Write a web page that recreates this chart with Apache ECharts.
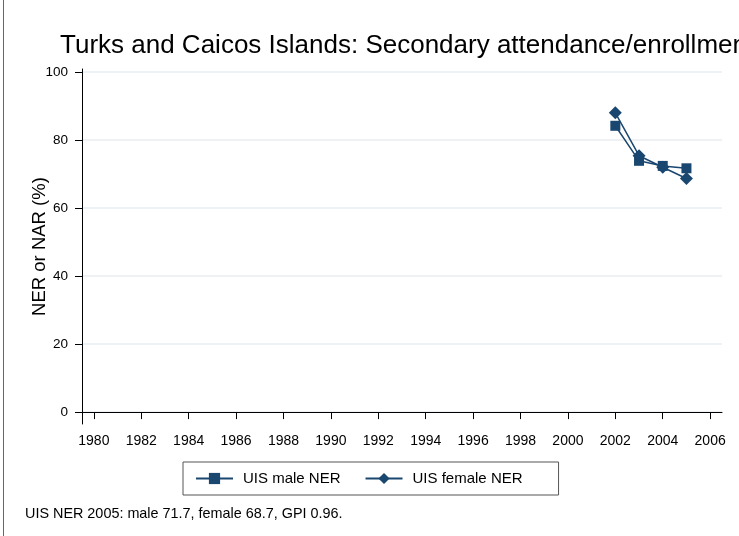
<!DOCTYPE html>
<html>
<head>
<meta charset="utf-8">
<script src="https://cdn.jsdelivr.net/npm/echarts@6/dist/echarts.min.js"></script>
<style>html,body{margin:0;padding:0;background:#fff}#c{width:739px;height:536px}</style>
</head>
<body>
<div id="c"></div>
<script>
const years = [2002, 2003, 2004, 2005];
const maleNER = [84.2, 73.9, 72.4, 71.7];
const femaleNER = [88.0, 75.4, 72.0, 68.7];
const xTicks = [1980,1982,1984,1986,1988,1990,1992,1994,1996,1998,2000,2002,2004,2006];
const yTicks = [0,20,40,60,80,100];
const titleText = 'Turks and Caicos Islands: Secondary attendance/enrollment';
const noteText = 'UIS NER 2005: male 71.7, female 68.7, GPI 0.96.';
const FONT = 'Liberation Sans, Arial, Helvetica, sans-serif';
const NAVY = '#1a476f';

const chart = echarts.init(document.getElementById('c'), null, {renderer: 'canvas'});
chart.setOption({
  backgroundColor: '#fff',
  animation: false,
  textStyle: {fontFamily: FONT},
  title: {
    text: titleText,
    left: 55, top: 28,
    textStyle: {fontSize: 26, fontWeight: 'normal', color: '#000', fontFamily: FONT}
  },
  grid: {left: 82, right: 17, top: 69, bottom: 112},
  xAxis: {
    type: 'value', min: 1979.5, max: 2006.5,
    axisLine: {show: true, lineStyle: {color: '#000', width: 1}},
    axisTick: {show: true, length: 7, customValues: xTicks, lineStyle: {color: '#000'}},
    axisLabel: {customValues: xTicks, color: '#000', fontSize: 14, margin: 10, fontFamily: FONT, formatter: v => String(v)},
    splitLine: {show: false}
  },
  yAxis: {
    type: 'value', min: -3.5, max: 100.9,
    name: 'NER or NAR (%)', nameLocation: 'middle', nameGap: 33, nameMoveOverlap: false,
    nameTextStyle: {fontSize: 18.5, color: '#000', fontFamily: FONT},
    axisLine: {show: true, lineStyle: {color: '#000', width: 1}},
    axisTick: {show: true, length: 7, customValues: yTicks, lineStyle: {color: '#000'}},
    axisLabel: {customValues: yTicks, color: '#000', fontSize: 13.5, margin: 14, fontFamily: FONT},
    splitLine: {show: true, lineStyle: {color: '#e8eef2', width: 1.5}}
  },
  legend: {
    left: 183, top: 462,
    padding: [9, 36, 9, 12],
    borderColor: '#555', borderWidth: 1,
    itemWidth: 37, itemHeight: 14, itemGap: 24,
    textStyle: {fontSize: 15, color: '#000', fontFamily: FONT, padding: [0,0,0,5]},
    data: ['UIS male NER', 'UIS female NER']
  },
  series: [
    {
      name: 'UIS male NER', type: 'line',
      data: years.map((y, i) => [y, maleNER[i]]),
      symbol: 'rect', symbolSize: 10,
      itemStyle: {color: NAVY}, lineStyle: {color: NAVY, width: 1.5}
    },
    {
      name: 'UIS female NER', type: 'line',
      data: years.map((y, i) => [y, femaleNER[i]]),
      symbol: 'diamond', symbolSize: 13,
      itemStyle: {color: NAVY}, lineStyle: {color: NAVY, width: 1.5}
    }
  ],
  graphic: [
    {type: 'text', left: 25, top: 507, style: {text: noteText, fontSize: 14.4, fill: '#000', fontFamily: FONT}},
    {type: 'line', shape: {x1: 3.5, y1: 0, x2: 3.5, y2: 536}, style: {stroke: '#666', lineWidth: 1}}
  ]
});
</script>
</body>
</html>
